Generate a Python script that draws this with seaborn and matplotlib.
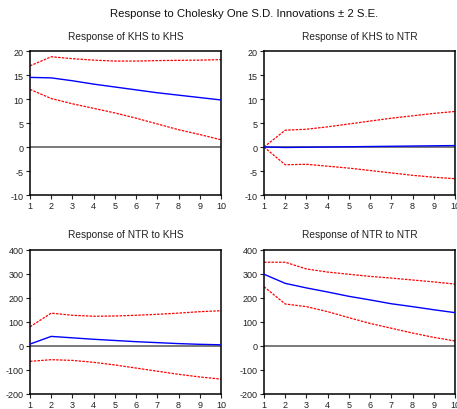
import numpy as np
import pandas as pd
import matplotlib
matplotlib.use("Agg")
import matplotlib.pyplot as plt
import seaborn as sns

sns.set_theme(style="white")
plt.rcParams['font.family'] = ['Liberation Sans', 'DejaVu Sans']
plt.rcParams['axes.unicode_minus'] = False

periods = list(range(1, 11))

khs_khs = [14.5, 14.4, 13.8, 13.1, 12.5, 11.9, 11.3, 10.8, 10.3, 9.8]
khs_khs_up = [16.9, 18.8, 18.4, 18.1, 17.9, 17.9, 18.0, 18.05, 18.1, 18.2]
khs_khs_lo = [12.0, 10.1, 9.0, 8.05, 7.1, 6.0, 4.8, 3.6, 2.6, 1.5]

khs_ntr = [0.0, -0.1, -0.05, 0.0, 0.05, 0.1, 0.15, 0.2, 0.25, 0.3]
khs_ntr_up = [0.0, 3.5, 3.7, 4.2, 4.8, 5.4, 6.0, 6.5, 7.0, 7.4]
khs_ntr_lo = [0.0, -3.7, -3.6, -4.0, -4.4, -4.9, -5.4, -5.9, -6.3, -6.6]

ntr_khs = [8, 40, 34, 28, 23, 18, 14, 10, 7, 5]
ntr_khs_up = [80, 137, 128, 124, 125, 128, 132, 137, 143, 147]
ntr_khs_lo = [-64, -57, -60, -68, -79, -92, -105, -118, -129, -138]

ntr_ntr = [299, 261, 242, 225, 207, 192, 176, 164, 151, 139]
ntr_ntr_up = [349, 349, 321, 308, 299, 290, 283, 275, 267, 258]
ntr_ntr_lo = [247, 175, 164, 143, 118, 94, 74, 54, 36, 21]

titles = ["Response of KHS to KHS", "Response of KHS to NTR",
          "Response of NTR to KHS", "Response of NTR to NTR"]
series = [(khs_khs, khs_khs_up, khs_khs_lo),
          (khs_ntr, khs_ntr_up, khs_ntr_lo),
          (ntr_khs, ntr_khs_up, ntr_khs_lo),
          (ntr_ntr, ntr_ntr_up, ntr_ntr_lo)]
ylims = [(-10, 20), (-10, 20), (-200, 400), (-200, 400)]
yticks = [list(range(-10, 21, 5)), list(range(-10, 21, 5)),
          list(range(-200, 401, 100)), list(range(-200, 401, 100))]

W, H = 457, 410
fig = plt.figure(figsize=(W / 100, H / 100), dpi=100)
fig.patch.set_facecolor("white")

# axes boxes in pixels: (left, top, right, bottom)
boxes = [(30, 52, 221, 196), (264, 52, 455, 196),
         (30, 251, 221, 395), (264, 251, 455, 395)]

for i, (box, title, (m, up, lo), yl, yt) in enumerate(zip(boxes, titles, series, ylims, yticks)):
    l, t, r, b = box
    ax = fig.add_axes([l / W, 1 - b / H, (r - l) / W, (b - t) / H])
    ax.axhline(0, color="#555555", lw=1.1, zorder=1)
    df = pd.DataFrame({"period": periods, "mean": m, "up": up, "lo": lo})
    sns.lineplot(data=df, x="period", y="up", ax=ax, color="red", lw=0.9,
                 linestyle=(0, (2, 1)), zorder=2)
    sns.lineplot(data=df, x="period", y="lo", ax=ax, color="red", lw=0.9,
                 linestyle=(0, (2, 1)), zorder=2)
    sns.lineplot(data=df, x="period", y="mean", ax=ax, color="blue", lw=1.0, zorder=3)
    ax.set_xlim(1, 10)
    ax.set_ylim(*yl)
    ax.set_xticks(periods)
    ax.set_yticks(yt)
    ax.set_xlabel("")
    ax.set_ylabel("")
    ax.tick_params(axis="both", which="both", direction="out", length=3, width=0.8,
                   labelsize=6.5, pad=1.5, colors="#222222", bottom=True, left=True)
    for s in ax.spines.values():
        s.set_color("black")
        s.set_linewidth(1.1)
    ax.set_title(title, fontsize=7.3, pad=9, color="#222222")

fig.text(244 / W, 1 - 14 / H, "Response to Cholesky One S.D. Innovations \u00b1 2 S.E.",
         ha="center", va="center", fontsize=8.2, color="#111111")

fig.savefig("out.png", dpi=100)
